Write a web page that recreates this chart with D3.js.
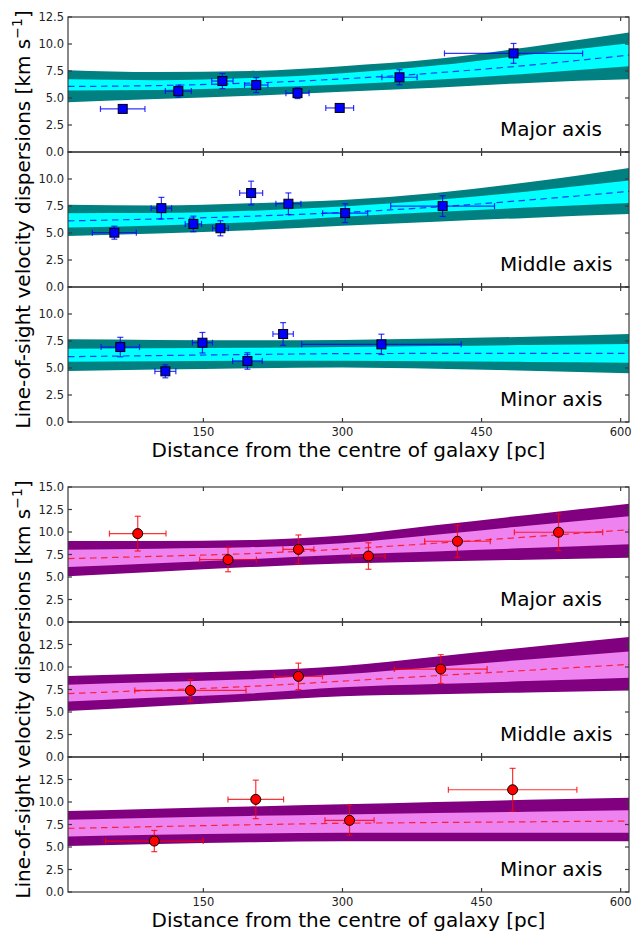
<!DOCTYPE html>
<html><head><meta charset="utf-8">
<script src="https://cdn.jsdelivr.net/npm/d3@7"></script>
<style>body{margin:0;background:#fff}svg{display:block}text{font-family:"DejaVu Sans",sans-serif}</style>
</head><body><svg id="c" width="632" height="931"></svg>
<script>
// ---------- DATA ----------
const xTicks = [150, 300, 450, 600];
const yTicksTop = [0, 2.5, 5, 7.5, 10, 12.5];
const yTicksBottom = [0, 2.5, 5, 7.5, 10, 12.5, 15];
const panelNames = ["Major axis", "Middle axis", "Minor axis"];

// model band sample radii (pc)
const bandR = [4, 100, 200, 300, 400, 500, 609];
// rows: outer upper, inner upper, median, inner lower, outer lower
const bandDMMajor = [
  [7.57, 7.40, 7.50, 7.95, 8.60, 9.70, 11.06],
  [6.73, 6.65, 6.85, 7.30, 8.00, 9.00, 10.07],
  [6.07, 6.15, 6.38, 6.77, 7.32, 8.03, 8.97],
  [5.70, 5.75, 5.95, 6.25, 6.70, 7.25, 7.94],
  [4.60, 4.90, 5.20, 5.58, 5.95, 6.40, 6.73]
];
const bandDMMiddle = [
  [7.61, 7.55, 7.75, 8.05, 8.70, 9.70, 11.03],
  [6.84, 6.85, 7.05, 7.45, 8.05, 8.85, 9.85],
  [6.12, 6.30, 6.55, 6.90, 7.40, 8.05, 8.85],
  [5.50, 5.70, 6.00, 6.50, 6.95, 7.35, 7.77],
  [4.72, 4.95, 5.25, 5.66, 6.05, 6.40, 6.75]
];
const bandDMMinor = [
  [7.66, 7.60, 7.58, 7.60, 7.72, 7.90, 8.15],
  [6.79, 6.83, 6.88, 6.95, 7.03, 7.12, 7.22],
  [6.05, 6.15, 6.25, 6.33, 6.35, 6.36, 6.36],
  [5.58, 5.62, 5.66, 5.68, 5.62, 5.56, 5.49],
  [4.72, 4.85, 4.98, 5.05, 4.93, 4.75, 4.51]
];
const bandMONDMajor = [
  [9.00, 9.00, 9.10, 9.60, 10.75, 11.90, 13.15],
  [8.04, 8.15, 8.30, 8.75, 9.70, 10.70, 11.74],
  [7.04, 7.30, 7.60, 8.10, 8.75, 9.45, 10.26],
  [6.11, 6.53, 6.97, 7.47, 7.84, 8.21, 8.63],
  [5.08, 5.58, 6.10, 6.50, 6.72, 6.92, 7.15]
];
const bandMONDMiddle = [
  [8.99, 9.28, 9.58, 10.10, 11.14, 12.19, 13.32],
  [8.04, 8.34, 8.65, 9.19, 10.01, 10.83, 11.73],
  [7.04, 7.43, 7.84, 8.43, 9.03, 9.63, 10.29],
  [6.18, 6.60, 7.05, 7.75, 8.10, 8.44, 8.81],
  [5.10, 5.63, 6.20, 6.76, 6.97, 7.18, 7.40]
];
const bandMONDMinor = [
  [8.99, 9.25, 9.50, 9.75, 10.00, 10.25, 10.48],
  [8.04, 8.25, 8.45, 8.62, 8.77, 8.92, 9.07],
  [7.07, 7.27, 7.47, 7.63, 7.72, 7.80, 7.88],
  [6.18, 6.35, 6.50, 6.59, 6.59, 6.59, 6.59],
  [5.10, 5.32, 5.52, 5.63, 5.63, 5.63, 5.63]
];

// observed dispersions (top: squares; bottom: circles)
const majorR = [63, 123, 170.5, 207, 251.5, 297, 361.5, 484.5];
const majorV = [3.99, 5.64, 6.57, 6.20, 5.45, 4.08, 6.92, 9.13];
const majorRerr = [24, 14, 11.5, 12.6, 12.5, 15, 19, 74.5];
const majorVerr = [0.2, 0.55, 0.7, 0.69, 0.5, 0.2, 0.7, 0.92];

const middleR = [54, 104.7, 139.2, 168.4, 201.5, 241.7, 302.9, 408];
const middleV = [5.03, 7.30, 5.84, 5.44, 8.70, 7.71, 6.84, 7.49];
const middleRerr = [23.7, 11, 8.8, 8.5, 12.4, 13.5, 24.3, 56];
const middleVerr = [0.6, 1.0, 0.72, 0.7, 1.1, 1.0, 0.87, 0.96];

const minorR = [60.4, 109, 149, 197.5, 236, 342];
const minorV = [6.94, 4.69, 7.34, 5.65, 8.15, 7.19];
const minorRerr = [20.7, 11.3, 10.8, 16, 11, 86];
const minorVerr = [0.9, 0.6, 0.95, 0.76, 1.05, 0.94];

const major2R = [79.2, 176.6, 252.5, 328, 424, 533];
const major2V = [9.82, 6.93, 8.07, 7.33, 8.97, 9.97];
const major2Rerr = [30.5, 30.6, 16.7, 18, 35.4, 47.6];
const major2Verr = [1.93, 1.35, 1.6, 1.47, 1.8, 2.04];

const middle2R = [136, 252.5, 406];
const middle2V = [7.40, 8.96, 9.77];
const middle2Rerr = [60, 26, 50];
const middle2Verr = [1.2, 1.47, 1.6];

const minor2R = [97.1, 206.5, 307.6, 483.5];
const minor2V = [5.66, 10.29, 7.96, 11.36];
const minor2Rerr = [52.7, 30, 26.5, 69.3];
const minor2Verr = [1.18, 2.14, 1.65, 2.38];

// ---------- LAYOUT ----------
const svg = d3.select("#c");
const L = 68, R = 629, PH = 135;
const x = d3.scaleLinear().domain([4, 609]).range([L, R]);

const groups = [
  { top: 17, ymax: 12.5, ticks: yTicksTop, outer: "#008080", inner: "#00ffff", color: "#0000ff",
    marker: "square", bands: [bandDMMajor, bandDMMiddle, bandDMMinor],
    pts: [[majorR, majorV, majorRerr, majorVerr], [middleR, middleV, middleRerr, middleVerr], [minorR, minorV, minorRerr, minorVerr]] },
  { top: 487, ymax: 15, ticks: yTicksBottom, outer: "#800080", inner: "#ee82ee", color: "#ff0000",
    marker: "circle", bands: [bandMONDMajor, bandMONDMiddle, bandMONDMinor],
    pts: [[major2R, major2V, major2Rerr, major2Verr], [middle2R, middle2V, middle2Rerr, middle2Verr], [minor2R, minor2V, minor2Rerr, minor2Verr]] }
];

const defs = svg.append("defs");
let clipId = 0;
const spineColor = "#3a3a3a";

groups.forEach((g, gi) => {
  for (let p = 0; p < 3; p++) {
    const top = g.top + p * PH, bottom = top + PH;
    const y = d3.scaleLinear().domain([0, g.ymax]).range([bottom, top]);
    const id = "clip" + (clipId++);
    defs.append("clipPath").attr("id", id).append("rect")
      .attr("x", L).attr("y", top).attr("width", R - L).attr("height", PH);
    const layer = svg.append("g").attr("clip-path", `url(#${id})`);
    const band = g.bands[p];
    const idx = d3.range(bandR.length);
    const area = (hi, lo) => d3.area().curve(d3.curveMonotoneX)
      .x(i => x(bandR[i])).y0(i => y(band[lo][i])).y1(i => y(band[hi][i]));
    layer.append("path").attr("d", area(0, 4)(idx)).attr("fill", g.outer);
    layer.append("path").attr("d", area(1, 3)(idx)).attr("fill", g.inner);
    layer.append("path")
      .attr("d", d3.line().curve(d3.curveMonotoneX).x(i => x(bandR[i])).y(i => y(band[2][i]))(idx))
      .attr("fill", "none").attr("stroke", g.color).attr("stroke-opacity", 0.75)
      .attr("stroke-width", 1.2).attr("stroke-dasharray", "6.5,4.5");

    const [rs, vs, re, ve] = g.pts[p];
    const eb = layer.append("g").attr("stroke", g.color).attr("stroke-opacity", 0.8).attr("stroke-width", 1.2);
    rs.forEach((r, i) => {
      const cx = x(r), cy = y(vs[i]);
      const x0 = x(r - re[i]), x1 = x(r + re[i]);
      const y0 = y(vs[i] - ve[i]), y1 = y(vs[i] + ve[i]);
      eb.append("line").attr("x1", x0).attr("x2", x1).attr("y1", cy).attr("y2", cy);
      eb.append("line").attr("x1", cx).attr("x2", cx).attr("y1", y0).attr("y2", y1);
      const c = 3;
      eb.append("line").attr("x1", x0).attr("x2", x0).attr("y1", cy - c).attr("y2", cy + c);
      eb.append("line").attr("x1", x1).attr("x2", x1).attr("y1", cy - c).attr("y2", cy + c);
      eb.append("line").attr("x1", cx - c).attr("x2", cx + c).attr("y1", y0).attr("y2", y0);
      eb.append("line").attr("x1", cx - c).attr("x2", cx + c).attr("y1", y1).attr("y2", y1);
    });
    rs.forEach((r, i) => {
      const cx = x(r), cy = y(vs[i]);
      if (g.marker === "square") {
        layer.append("rect").attr("x", cx - 4.5).attr("y", cy - 4.5).attr("width", 9).attr("height", 9)
          .attr("fill", g.color).attr("stroke", "#000").attr("stroke-width", 1);
      } else {
        layer.append("circle").attr("cx", cx).attr("cy", cy).attr("r", 5)
          .attr("fill", g.color).attr("stroke", "#000").attr("stroke-width", 1);
      }
    });

    // frame & ticks
    const ax = svg.append("g");
    ax.append("rect").attr("x", L).attr("y", top).attr("width", R - L).attr("height", PH)
      .attr("fill", "none").attr("stroke", spineColor).attr("stroke-width", 1.2);
    xTicks.forEach(t => {
      ax.append("line").attr("x1", x(t)).attr("x2", x(t)).attr("y1", bottom).attr("y2", bottom - 4).attr("stroke", spineColor).attr("stroke-width", 1.2);
      ax.append("line").attr("x1", x(t)).attr("x2", x(t)).attr("y1", top).attr("y2", top + 4).attr("stroke", spineColor).attr("stroke-width", 1.2);
    });
    g.ticks.forEach(t => {
      ax.append("line").attr("x1", L).attr("x2", L + 4).attr("y1", y(t)).attr("y2", y(t)).attr("stroke", spineColor).attr("stroke-width", 1.2);
      ax.append("line").attr("x1", R).attr("x2", R - 4).attr("y1", y(t)).attr("y2", y(t)).attr("stroke", spineColor).attr("stroke-width", 1.2);
      if (p === 0 || t < g.ymax) {
        ax.append("text").attr("x", L - 4).attr("y", y(t)).attr("dy", "0.36em")
          .attr("text-anchor", "end").attr("font-size", 11.5).attr("fill", "#222").text(t.toFixed(1));
      }
    });
    if (p === 2) {
      xTicks.forEach(t => {
        ax.append("text").attr("x", x(t)).attr("y", bottom + 14).attr("text-anchor", "middle")
          .attr("font-size", 11.5).attr("fill", "#222").text(t);
      });
    }
    ax.append("text").attr("x", 500).attr("y", bottom - 16).attr("font-size", 20).attr("fill", "#000")
      .text(panelNames[p]);
  }
  const gTop = g.top, gBot = g.top + 3 * PH;
  svg.append("text").attr("x", (L + R) / 2).attr("y", gBot + 35).attr("text-anchor", "middle")
    .attr("font-size", 20).attr("fill", "#000").text("Distance from the centre of galaxy [pc]");
  const yl = svg.append("text").attr("transform", `translate(29.5,${(gTop + gBot) / 2}) rotate(-90)`)
    .attr("text-anchor", "middle").attr("font-size", 20).attr("fill", "#000");
  yl.append("tspan").text("Line-of-sight velocity dispersions [km s");
  yl.append("tspan").attr("font-size", 14).attr("dy", -8).text("\u22121");
  yl.append("tspan").attr("dy", 8).text("]");
});
</script></body></html>
